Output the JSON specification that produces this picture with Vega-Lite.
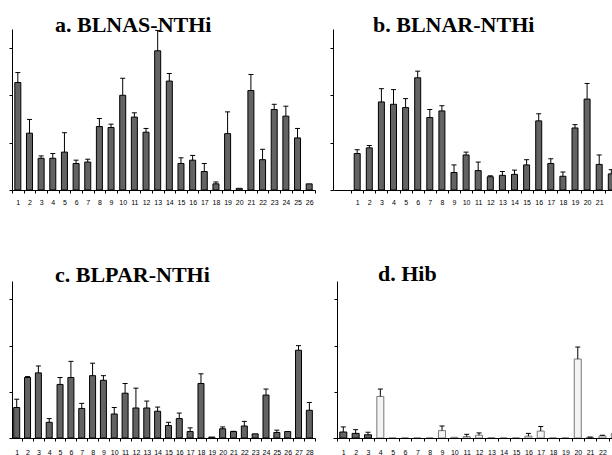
{
  "$schema": "https://vega.github.io/schema/vega-lite/v6.json",
  "padding": {"left": 8, "top": 14, "right": 0, "bottom": 0},
  "bounds": "flush",
  "columns": 2,
  "spacing": {"row": 91, "column": 18},
  "datasets": {
    "a": [
      {"n": 1, "v": 2.27, "hi": 2.48}, {"n": 2, "v": 1.20, "hi": 1.49}, {"n": 3, "v": 0.67, "hi": 0.72},
      {"n": 4, "v": 0.67, "hi": 0.77}, {"n": 5, "v": 0.80, "hi": 1.21}, {"n": 6, "v": 0.56, "hi": 0.63},
      {"n": 7, "v": 0.59, "hi": 0.65}, {"n": 8, "v": 1.34, "hi": 1.51}, {"n": 9, "v": 1.32, "hi": 1.39},
      {"n": 10, "v": 2.00, "hi": 2.36}, {"n": 11, "v": 1.54, "hi": 1.63}, {"n": 12, "v": 1.22, "hi": 1.30},
      {"n": 13, "v": 2.94, "hi": 3.37}, {"n": 14, "v": 2.30, "hi": 2.46}, {"n": 15, "v": 0.56, "hi": 0.68},
      {"n": 16, "v": 0.63, "hi": 0.73}, {"n": 17, "v": 0.39, "hi": 0.56}, {"n": 18, "v": 0.13, "hi": 0.17},
      {"n": 19, "v": 1.19, "hi": 1.65}, {"n": 20, "v": 0.035}, {"n": 21, "v": 2.10, "hi": 2.44},
      {"n": 22, "v": 0.64, "hi": 0.86}, {"n": 23, "v": 1.70, "hi": 1.81}, {"n": 24, "v": 1.56, "hi": 1.77},
      {"n": 25, "v": 1.10, "hi": 1.30}, {"n": 26, "v": 0.13}
    ],
    "b": [
      {"n": 1, "v": 0.77, "hi": 0.85}, {"n": 2, "v": 0.89, "hi": 0.94}, {"n": 3, "v": 1.86, "hi": 2.14},
      {"n": 4, "v": 1.81, "hi": 2.12}, {"n": 5, "v": 1.74, "hi": 1.93}, {"n": 6, "v": 2.37, "hi": 2.51},
      {"n": 7, "v": 1.53, "hi": 1.70}, {"n": 8, "v": 1.67, "hi": 1.78}, {"n": 9, "v": 0.37, "hi": 0.53},
      {"n": 10, "v": 0.74, "hi": 0.80}, {"n": 11, "v": 0.41, "hi": 0.59}, {"n": 12, "v": 0.28, "hi": 0.30},
      {"n": 13, "v": 0.31, "hi": 0.39}, {"n": 14, "v": 0.33, "hi": 0.42}, {"n": 15, "v": 0.53, "hi": 0.64},
      {"n": 16, "v": 1.46, "hi": 1.61}, {"n": 17, "v": 0.56, "hi": 0.66}, {"n": 18, "v": 0.29, "hi": 0.38},
      {"n": 19, "v": 1.31, "hi": 1.38}, {"n": 20, "v": 1.92, "hi": 2.25}, {"n": 21, "v": 0.54, "hi": 0.74},
      {"n": 22, "v": 0.34, "hi": 0.43}
    ],
    "c": [
      {"n": 1, "v": 0.66, "hi": 0.84}, {"n": 2, "v": 1.31, "hi": 1.33}, {"n": 3, "v": 1.41, "hi": 1.56},
      {"n": 4, "v": 0.34, "hi": 0.42}, {"n": 5, "v": 1.16, "hi": 1.31}, {"n": 6, "v": 1.31, "hi": 1.66},
      {"n": 7, "v": 0.64, "hi": 0.75}, {"n": 8, "v": 1.35, "hi": 1.62}, {"n": 9, "v": 1.25, "hi": 1.35},
      {"n": 10, "v": 0.52, "hi": 0.66}, {"n": 11, "v": 0.97, "hi": 1.18}, {"n": 12, "v": 0.65, "hi": 1.08},
      {"n": 13, "v": 0.65, "hi": 0.80}, {"n": 14, "v": 0.58, "hi": 0.67}, {"n": 15, "v": 0.27, "hi": 0.34},
      {"n": 16, "v": 0.42, "hi": 0.54}, {"n": 17, "v": 0.14, "hi": 0.22}, {"n": 18, "v": 1.18, "hi": 1.39},
      {"n": 19, "v": 0.02}, {"n": 20, "v": 0.20, "hi": 0.24}, {"n": 21, "v": 0.14, "hi": 0.145},
      {"n": 22, "v": 0.26, "hi": 0.36}, {"n": 23, "v": 0.09}, {"n": 24, "v": 0.93, "hi": 1.06},
      {"n": 25, "v": 0.12, "hi": 0.17}, {"n": 26, "v": 0.14}, {"n": 27, "v": 1.90, "hi": 2.00},
      {"n": 28, "v": 0.60, "hi": 0.77}
    ],
    "d": [
      {"n": 1, "v": 0.13, "hi": 0.24, "g": "dark"}, {"n": 2, "v": 0.10, "hi": 0.18, "g": "dark"},
      {"n": 3, "v": 0.07, "hi": 0.125, "g": "dark"}, {"n": 4, "v": 0.90, "hi": 1.06, "g": "light"},
      {"n": 5, "v": 0, "g": "light"}, {"n": 6, "v": 0, "g": "light"}, {"n": 7, "v": 0, "g": "light"},
      {"n": 8, "v": 0, "g": "light"}, {"n": 9, "v": 0.16, "hi": 0.26, "g": "light"},
      {"n": 10, "v": 0.015, "g": "light"}, {"n": 11, "v": 0.03, "hi": 0.08, "g": "light"},
      {"n": 12, "v": 0.06, "hi": 0.11, "g": "light"}, {"n": 13, "v": 0.005, "g": "light"},
      {"n": 14, "v": 0, "g": "light"}, {"n": 15, "v": 0, "g": "light"},
      {"n": 16, "v": 0.04, "hi": 0.10, "g": "light"}, {"n": 17, "v": 0.15, "hi": 0.25, "g": "light"},
      {"n": 18, "v": 0, "g": "light"}, {"n": 19, "v": 0, "g": "light"},
      {"n": 20, "v": 1.71, "hi": 1.97, "g": "light"}, {"n": 21, "v": 0.015, "hi": 0.02, "g": "light"},
      {"n": 22, "v": 0.045, "hi": 0.06, "g": "light"}, {"n": 23, "v": 0.10, "g": "light"}
    ]
  },
  "concat": [
    {
      "width": 303, "height": 161,
      "title": {"text": "a. BLNAS-NTHi", "dx": 43, "dy": 12},
      "data": {"name": "a"},
      "encoding": {
        "x": {"field": "n", "type": "quantitative",
          "scale": {"domain": [0.5, 26.5], "nice": false, "zero": false, "padding": 0},
          "axis": {"values": [0.5,1,1.5,2,2.5,3,3.5,4,4.5,5,5.5,6,6.5,7,7.5,8,8.5,9,9.5,10,10.5,11,11.5,12,12.5,13,13.5,14,14.5,15,15.5,16,16.5,17,17.5,18,18.5,19,19.5,20,20.5,21,21.5,22,22.5,23,23.5,24,24.5,25,25.5,26,26.5],
            "labelExpr": "datum.value % 1 === 0 ? format(datum.value, 'd') : ''",
            "tickOpacity": {"condition": {"test": "datum.value % 1 === 0", "value": 0}, "value": 1},
            "labelPadding": 5}}
      },
      "layer": [
        {"mark": {"type": "bar", "size": 6, "fill": "#636363", "stroke": "#000", "strokeWidth": 1},
         "encoding": {"y": {"field": "v", "type": "quantitative", "scale": {"domain": [0, 3.4], "nice": false},
           "axis": {"values": [0, 1, 2, 3], "labels": false, "tickSize": 3}}}},
        {"transform": [{"filter": "isValid(datum.hi)"}], "mark": {"type": "rule", "color": "#000", "strokeWidth": 1},
         "encoding": {"y": {"field": "v", "type": "quantitative"}, "y2": {"field": "hi"}}},
        {"transform": [{"filter": "isValid(datum.hi)"}], "mark": {"type": "tick", "orient": "horizontal", "size": 5, "thickness": 1, "color": "#000", "opacity": 1},
         "encoding": {"y": {"field": "hi", "type": "quantitative"}}}
      ]
    },
    {
      "width": 280, "height": 161,
      "title": {"text": "b. BLNAR-NTHi", "dx": 40, "dy": 12},
      "data": {"name": "b"},
      "encoding": {
        "x": {"field": "n", "type": "quantitative",
          "scale": {"domain": [-1, 22.14], "nice": false, "zero": false, "padding": 0},
          "axis": {"values": [0.5,1,1.5,2,2.5,3,3.5,4,4.5,5,5.5,6,6.5,7,7.5,8,8.5,9,9.5,10,10.5,11,11.5,12,12.5,13,13.5,14,14.5,15,15.5,16,16.5,17,17.5,18,18.5,19,19.5,20,20.5,21,21.5],
            "labelExpr": "datum.value % 1 === 0 ? format(datum.value, 'd') : ''",
            "tickOpacity": {"condition": {"test": "datum.value % 1 === 0", "value": 0}, "value": 1},
            "labelPadding": 5}}
      },
      "layer": [
        {"mark": {"type": "bar", "size": 6, "fill": "#636363", "stroke": "#000", "strokeWidth": 1, "clip": true},
         "encoding": {"y": {"field": "v", "type": "quantitative", "scale": {"domain": [0, 3.4], "nice": false},
           "axis": {"values": [0, 1, 2, 3], "labels": false, "tickSize": 3}}}},
        {"transform": [{"filter": "isValid(datum.hi)"}], "mark": {"type": "rule", "color": "#000", "strokeWidth": 1, "clip": true},
         "encoding": {"y": {"field": "v", "type": "quantitative"}, "y2": {"field": "hi"}}},
        {"transform": [{"filter": "isValid(datum.hi)"}], "mark": {"type": "tick", "orient": "horizontal", "size": 5, "thickness": 1, "color": "#000", "opacity": 1, "clip": true},
         "encoding": {"y": {"field": "hi", "type": "quantitative"}}}
      ]
    },
    {
      "width": 303, "height": 157,
      "title": {"text": "c. BLPAR-NTHi", "dx": 43, "dy": 10},
      "data": {"name": "c"},
      "encoding": {
        "x": {"field": "n", "type": "quantitative",
          "scale": {"domain": [0.566, 28.52], "nice": false, "zero": false, "padding": 0},
          "axis": {"values": [1,1.5,2,2.5,3,3.5,4,4.5,5,5.5,6,6.5,7,7.5,8,8.5,9,9.5,10,10.5,11,11.5,12,12.5,13,13.5,14,14.5,15,15.5,16,16.5,17,17.5,18,18.5,19,19.5,20,20.5,21,21.5,22,22.5,23,23.5,24,24.5,25,25.5,26,26.5,27,27.5,28,28.5],
            "labelExpr": "datum.value % 1 === 0 ? format(datum.value, 'd') : ''",
            "tickOpacity": {"condition": {"test": "datum.value % 1 === 0", "value": 0}, "value": 1},
            "labelPadding": 7}}
      },
      "layer": [
        {"mark": {"type": "bar", "size": 6, "fill": "#636363", "stroke": "#000", "strokeWidth": 1},
         "encoding": {"y": {"field": "v", "type": "quantitative", "scale": {"domain": [0, 3.4], "nice": false},
           "axis": {"values": [0, 1, 2, 3], "labels": false, "tickSize": 3}}}},
        {"transform": [{"filter": "isValid(datum.hi)"}], "mark": {"type": "rule", "color": "#000", "strokeWidth": 1},
         "encoding": {"y": {"field": "v", "type": "quantitative"}, "y2": {"field": "hi"}}},
        {"transform": [{"filter": "isValid(datum.hi)"}], "mark": {"type": "tick", "orient": "horizontal", "size": 5, "thickness": 1, "color": "#000", "opacity": 1},
         "encoding": {"y": {"field": "hi", "type": "quantitative"}}}
      ]
    },
    {
      "width": 280, "height": 157,
      "title": {"text": "d. Hib", "dx": 45, "dy": 9},
      "data": {"name": "d"},
      "encoding": {
        "x": {"field": "n", "type": "quantitative",
          "scale": {"domain": [0.165, 22.855], "nice": false, "zero": false, "padding": 0},
          "axis": {"values": [0.5,1,1.5,2,2.5,3,3.5,4,4.5,5,5.5,6,6.5,7,7.5,8,8.5,9,9.5,10,10.5,11,11.5,12,12.5,13,13.5,14,14.5,15,15.5,16,16.5,17,17.5,18,18.5,19,19.5,20,20.5,21,21.5,22,22.5],
            "labelExpr": "datum.value % 1 === 0 ? format(datum.value, 'd') : ''",
            "tickOpacity": {"condition": {"test": "datum.value % 1 === 0", "value": 0}, "value": 1},
            "labelPadding": 7}}
      },
      "layer": [
        {"mark": {"type": "bar", "size": 7, "strokeWidth": 1, "clip": true},
         "encoding": {
           "y": {"field": "v", "type": "quantitative", "scale": {"domain": [0, 3.4], "nice": false},
             "axis": {"values": [0, 1, 2, 3], "labels": false, "tickSize": 3, "offset": -4}},
           "fill": {"field": "g", "type": "nominal", "scale": {"domain": ["dark", "light"], "range": ["#636363", "#f4f4f4"]}, "legend": null},
           "stroke": {"field": "g", "type": "nominal", "scale": {"domain": ["dark", "light"], "range": ["#000000", "#7a7a7a"]}, "legend": null}
         }},
        {"transform": [{"filter": "isValid(datum.hi)"}], "mark": {"type": "rule", "color": "#000", "strokeWidth": 1, "clip": true},
         "encoding": {"y": {"field": "v", "type": "quantitative"}, "y2": {"field": "hi"}}},
        {"transform": [{"filter": "isValid(datum.hi)"}], "mark": {"type": "tick", "orient": "horizontal", "size": 5, "thickness": 1, "color": "#000", "opacity": 1, "clip": true},
         "encoding": {"y": {"field": "hi", "type": "quantitative"}}}
      ]
    }
  ],
  "config": {
    "view": {"stroke": null},
    "axis": {"domainColor": "#000", "tickColor": "#000", "tickSize": 3, "domainWidth": 1, "tickWidth": 1,
      "labelFont": "Liberation Sans", "labelFontSize": 7, "labelColor": "#000", "grid": false, "title": null,
      "labelOverlap": false, "labelBound": false, "labelFlush": false},
    "title": {"font": "Liberation Serif", "fontSize": 22, "fontWeight": "bold", "color": "#000",
      "anchor": "start", "frame": "group", "offset": 0, "baseline": "alphabetic"}
  }
}
